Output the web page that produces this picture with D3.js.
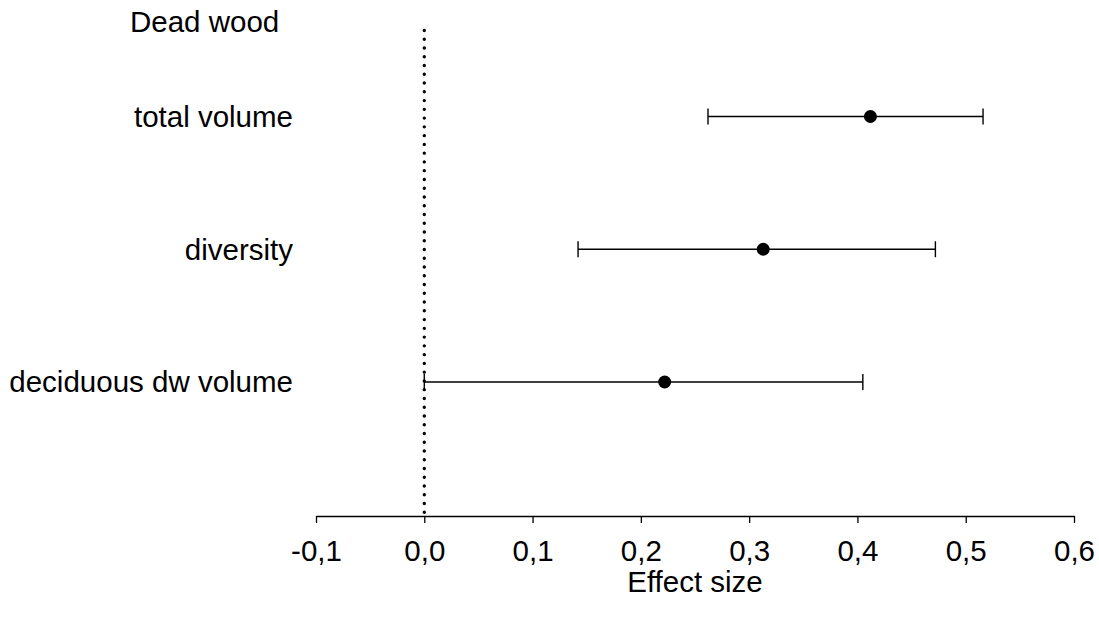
<!DOCTYPE html>
<html>
<head>
<meta charset="utf-8">
<script src="https://cdn.jsdelivr.net/npm/d3@7"></script>
<style>
  html, body { margin: 0; padding: 0; background: #fff; }
  svg { display: block; }
  text { font-family: "Liberation Sans", Arial, sans-serif; fill: #000; }
</style>
</head>
<body>
<svg id="chart" width="1099" height="619"></svg>
<script>
const title = "Dead wood";
const categories = ["total volume", "diversity", "deciduous dw volume"];
const estimates = [0.412, 0.313, 0.222];
const lower = [0.262, 0.142, 0.0];
const upper = [0.516, 0.472, 0.405];
const tickValues = [-0.1, 0.0, 0.1, 0.2, 0.3, 0.4, 0.5, 0.6];
const xLabel = "Effect size";

const svg = d3.select("#chart");
const fs = 29.5;

const x = d3.scaleLinear().domain([-0.1, 0.6]).range([316, 1074]);
const y = d3.scalePoint().domain(categories).range([116.5, 382]);
const axisY = 516;

// reference line at 0
svg.append("line")
  .attr("x1", x(0)).attr("x2", x(0))
  .attr("y1", 30.5).attr("y2", axisY)
  .attr("stroke", "#000").attr("stroke-width", 3.4)
  .attr("stroke-linecap", "round")
  .attr("stroke-dasharray", "0.01 8.75");

// axis
const axis = d3.axisBottom(x)
  .tickValues(tickValues)
  .tickSize(7)
  .tickSizeOuter(0)
  .tickPadding(17)
  .tickFormat(d => d3.format(".1f")(d).replace(".", ",").replace("−", "-"));
const gAxis = svg.append("g").attr("transform", `translate(0,${axisY})`).call(axis);
gAxis.select(".domain").attr("stroke", "#000").attr("stroke-width", 1.3);
gAxis.selectAll(".tick line").attr("stroke", "#000").attr("stroke-width", 1.3);
gAxis.selectAll(".tick text")
  .attr("font-size", fs)
  .attr("font-family", "Liberation Sans, Arial, sans-serif")
  .attr("fill", "#000");

svg.append("text")
  .attr("x", (x(-0.1) + x(0.6)) / 2)
  .attr("y", 592)
  .attr("text-anchor", "middle")
  .attr("font-size", fs)
  .text(xLabel);

// title
svg.append("text")
  .attr("x", 130).attr("y", 32)
  .attr("font-size", fs)
  .text(title);

// category labels
svg.selectAll(".cat").data(categories).enter().append("text")
  .attr("class", "cat")
  .attr("x", 293)
  .attr("y", d => y(d))
  .attr("dy", "0.35em")
  .attr("text-anchor", "end")
  .attr("font-size", fs)
  .text(d => d);

const rows = categories.map((c, i) => ({c, est: estimates[i], lo: lower[i], hi: upper[i]}));
const capH = 8;
const g = svg.append("g");
g.selectAll(".ci").data(rows).enter().append("line")
  .attr("x1", d => x(d.lo)).attr("x2", d => x(d.hi))
  .attr("y1", d => y(d.c)).attr("y2", d => y(d.c))
  .attr("stroke", "#000").attr("stroke-width", 1.4);
g.selectAll(".capl").data(rows).enter().append("line")
  .attr("x1", d => x(d.lo)).attr("x2", d => x(d.lo))
  .attr("y1", d => y(d.c) - capH).attr("y2", d => y(d.c) + capH)
  .attr("stroke", "#000").attr("stroke-width", 1.4);
g.selectAll(".caph").data(rows).enter().append("line")
  .attr("x1", d => x(d.hi)).attr("x2", d => x(d.hi))
  .attr("y1", d => y(d.c) - capH).attr("y2", d => y(d.c) + capH)
  .attr("stroke", "#000").attr("stroke-width", 1.4);
g.selectAll(".pt").data(rows).enter().append("circle")
  .attr("cx", d => x(d.est)).attr("cy", d => y(d.c))
  .attr("r", 6.5).attr("fill", "#000");
</script>
</body>
</html>
